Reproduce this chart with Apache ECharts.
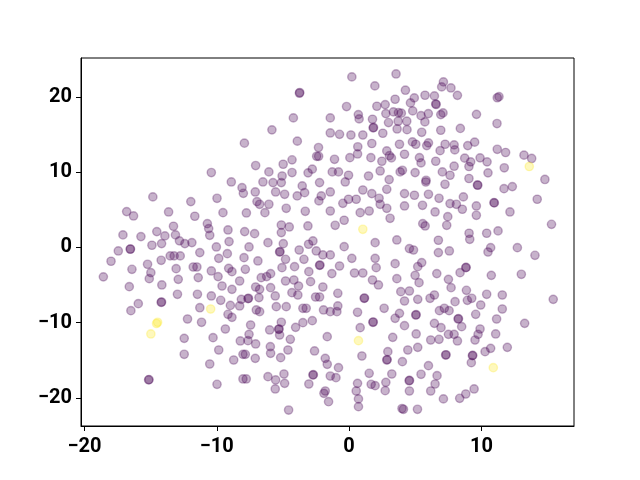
<!DOCTYPE html>
<html>
<head>
<meta charset="utf-8">
<script src="https://cdn.jsdelivr.net/npm/echarts@6/dist/echarts.min.js"></script>
<style>
  html, body { margin: 0; padding: 0; background: #fff; }
  #main { width: 640px; height: 480px; }
</style>
</head>
<body>
<div id="main"></div>
<script>
// class 0 (purple) points
var class0Points = [
    [-3.73,20.59],[-3.75,20.5],[-4.21,17.22],[-5.83,15.63],[-3.91,14.13],[-7.91,13.86],[-2.31,13.28],
    [-2.45,12.12],[-2.3,12.12],[-4.31,11.65],[-7.06,10.89],[-4.98,11.06],[-6.06,10.04],[-4.31,9.96],
    [-2.78,10.41],[-3.1,9.92],[-5.06,9.5],[-10.41,9.96],
    [0.21,22.67],[3.55,23.06],[1.95,21.47],[7.13,22.0],[7.0,21.34],[4.26,20.9],[5.74,20.23],[6.45,20.14],
    [4.93,19.88],[3.48,19.7],[4.64,19.21],[6.55,19.08],[6.58,19.0],[-0.19,18.73],[2.1,18.77],[2.73,18.99],
    [0.7,17.66],[0.76,17.09],[-1.42,17.22],[1.77,17.04],[2.78,17.79],[3.35,18.02],[3.73,17.93],[3.95,17.85],
    [4.81,18.15],[5.44,17.52],[5.99,17.79],[6.93,17.66],[7.1,17.88],[2.98,16.6],[3.71,16.78],[4.36,16.78],
    [5.73,16.69],[1.82,15.89],[1.85,15.95],[3.63,15.75],[4.38,15.66],[-1.42,15.22],[-0.72,15.04],[0.14,14.95],
    [1.04,14.95],[2.55,15.18],[5.49,15.31],[6.93,15.58],[1.72,13.82],[0.66,13.38],[3.81,13.72],[4.79,14.03],
    [5.04,13.72],[5.87,13.54],[6.0,13.9],[7.26,13.72],[6.88,12.87],[0.64,12.43],[2.85,12.83],[3.05,12.2],
    [3.2,11.9],[4.19,12.39],[1.65,11.94],[0.06,11.94],[-1.1,11.72],[5.32,11.94],[5.44,11.24],
    [6.55,11.46],[2.48,11.46],[-1.27,10.04],[-0.8,10.04],[-0.04,9.6],[1.47,9.5],
    [2.35,10.17],[3.03,9.02],[3.86,10.04],[4.03,10.26],[4.99,9.95],[5.82,8.93],[7.05,10.04],[7.63,9.6],
    [7.7,21.2],[8.19,20.22],[11.2,19.9],[11.33,20.04],[9.63,17.69],[8.41,15.82],[11.18,16.47],[7.94,13.63],
    [8.97,13.54],[9.49,14.0],[7.99,12.97],[11.2,13.05],[11.83,12.62],[13.22,12.27],[13.8,11.83],[8.74,11.87],
    [9.19,11.38],[9.06,10.76],[9.9,11.91],[10.43,11.38],[11.73,10.59],[10.5,9.92],[7.94,10.8],
    [9.06,9.17],[14.8,9.04],
    [-14.83,6.72],[-11.96,6.1],[-16.81,4.77],[-16.29,4.19],[-13.64,4.72],[-11.66,4.15],[-13.27,2.82],
    [-17.09,1.67],[-15.73,1.45],[-14.53,2.11],[-13.92,1.54],[-13.12,1.67],[-12.82,0.88],
    [-12.41,0.52],[-11.88,0.65],[-14.9,0.3],[-14.17,0.52],[-16.54,-0.23],[-16.52,-0.2],
    [-17.44,-0.46],[-17.99,-1.83],[-13.52,-1.12],[-13.22,-1.12],[-12.76,-1.12],[-11.28,-0.68],
    [-14.2,-1.7],[-15.23,-2.23],[-16.41,-2.9],[-14.98,-3.34],[-15.1,-4.14],[-13.07,-2.81],[-11.78,-2.59],
    [-11.5,-2.59],[-11.4,-4.0],[-12.91,-4.23],[-18.57,-3.9],[-16.61,-5.2],[-14.15,-4.98],
    [-12.97,-6.22],[-11.46,-6.22],[-15.93,-7.46],[-14.17,-7.24],[-14.2,-7.3],
    [-8.9,8.71],[-8.09,7.95],[-7.99,7.2],[-6.51,8.71],[-5.75,8.62],[-5.12,8.62],[-5.55,7.38],
    [-4.87,7.07],[-3.92,6.85],[-3.54,8.18],[-3.36,7.29],[-2.23,8.62],[-2.1,6.85],
    [-2.28,6.19],[-9.98,6.54],[-7.09,7.38],[-6.96,6.1],[-6.76,5.74],[-6.06,5.74],[-9.53,4.63],
    [-7.76,4.59],[-6.36,4.63],[-4.75,5.21],[-3.31,4.81],[-10.71,3.17],[-10.61,2.51],[-10.53,1.62],
    [-9.15,2.33],[-7.89,2.11],[-7.14,1.84],[-5.12,2.99],[-4.52,2.73],[-5.12,1.98],[-3.11,2.86],[-9.07,0.78],
    [-10.03,0.07],[-7.56,0.07],[-6.13,0.64],[-4.97,0.51],[-2.73,0.87],[-3.06,0.43],[-2.48,-0.46],
    [-3.77,-0.33],[-5.25,-0.6],[-5.22,-0.55],[-9.2,-0.82],[-9.85,-1.44],[-7.94,-1.35],[-6.89,-1.79],
    [-4.8,-1.57],[-3.41,-1.57],[-1.98,-0.99],[-2.23,-2.37],[-2.2,-2.33],[-10.41,-3.12],[-9.1,-2.77],
    [-8.85,-3.21],[-7.84,-2.9],[-5.07,-2.68],[-4.12,-2.55],[-3.04,-3.21],[-9.9,-3.87],[-6.64,-4.01],
    [-6.23,-3.87],[-5.93,-3.48],[-8.27,-4.45],[-4.8,-4.45],[-4.17,-4.32],[-2.91,-4.54],
    [-3.82,-5.12],[-9.6,-5.12],[-8.85,-5.56],[-7.06,-5.25],[-6.76,-5.56],[-5.93,-5.34],[-1.98,-5.25],
    [-10.41,-6.44],[-9.7,-7.02],[-7.64,-6.8],[-7.6,-6.75],[-8.14,-6.89],[-6.81,-6.66],[-5.58,-6.44],[-4.32,-6.0],
    [-3.87,-6.31],[-2.53,-6.58],[-2.23,-6.58],
    [-0.29,8.71],[7.25,8.4],[5.8,8.7],[-1.42,7.38],[-0.47,5.87],[-0.04,6.41],[0.54,6.41],[1.04,7.64],
    [1.72,7.16],[2.27,6.54],[2.35,5.74],[2.85,7.73],[2.85,5.21],[4.19,7.16],[4.94,6.94],[6.0,7.07],[6.8,6.54],
    [7.63,5.83],[4.19,5.52],[5.55,5.61],[-1.42,4.85],[0.84,4.63],[1.52,4.85],[3.1,3.88],[-1.05,2.95],
    [-0.37,3.62],[5.57,3.17],[5.75,2.86],[6.5,4.72],[7.46,4.1],[7.38,2.95],[3.61,1.0],[1.97,0.64],
    [-0.37,0.11],[4.56,-0.15],[4.87,-0.33],[6.75,0.96],[6.75,-0.68],[7.58,-0.46],[-1.42,-0.99],
    [0.21,-1.44],[1.97,-1.44],[-0.72,-2.46],[2.05,-2.68],[3.48,-2.15],[5.19,-2.55],[5.49,-2.01],
    [-1.3,-3.47],[0.41,-3.39],[1.04,-3.39],[4.99,-3.7],[6.63,-3.47],[1.77,-4.32],[3.61,-4.14],[5.29,-4.67],
    [7.51,-4.23],[2.22,-4.98],[7.71,-5.34],[-0.85,-6.09],[1.14,-6.75],[1.17,-6.72],[3.91,-5.87],[4.56,-5.78],
    [6.45,-6.31],[6.12,-6.75],[5.19,-6.89],[4.19,-7.11],
    [9.7,8.31],[9.73,8.27],[11.71,7.82],[12.34,8.09],[8.64,6.72],[8.11,5.74],[8.56,5.08],[9.62,5.52],[9.62,4.28],
    [10.95,5.96],[10.98,5.92],[12.16,4.72],[14.22,6.41],[15.3,3.08],[9.07,1.89],[9.12,1.09],[10.4,1.89],
    [11.26,2.2],[10.7,-0.02],[10.5,-0.6],[12.72,-0.02],[14.05,-1.04],[8.82,-2.68],[8.85,-2.64],
    [8.39,-3.34],[10.75,-3.7],[13.02,-3.56],[8.87,-5.69],[10.4,-6.22],[11.58,-6.31],[15.43,-6.89],[8.01,-7.2],
    [8.94,-7.02],[9.27,-6.75],
    [-16.49,-8.39],[-11.28,-8.0],[-12.21,-9.5],[-11.15,-9.94],[-12.46,-12.07],[-12.46,-14.19],[-15.15,-17.6],
    [-15.12,-17.55],
    [-8.97,-7.7],[-8.27,-7.77],[-7.01,-8.3],[-6.76,-8.53],[-5.5,-7.86],[-4.75,-7.86],[-3.49,-8.08],
    [-3.24,-8.08],[-1.93,-8.3],[-9.15,-8.88],[-8.85,-9.28],[-7.44,-10.3],[-9.35,-10.83],
    [-10.28,-11.98],[-8.22,-12.42],[-7.64,-12.38],[-7.56,-11.54],[-7.06,-12.82],[-6.0,-10.96],
    [-5.32,-10.87],[-5.29,-10.83],[-5.25,-11.63],[-5.12,-9.94],[-4.04,-10.61],[-3.49,-9.99],[-2.78,-9.72],
    [-4.44,-12.2],[-5.95,-13.18],[-5.93,-14.06],[-4.62,-13.62],[-5.17,-14.64],[-9.85,-13.62],[-8.02,-14.2],
    [-7.84,-14.2],[-7.09,-14.73],[-8.72,-14.95],[-10.53,-15.48],[-1.65,-11.85],
    [-2.61,-13.75],[-1.8,-14.73],[-1.65,-15.52],[-8.02,-17.47],[-7.77,-17.47],[-6.13,-17.16],[-5.55,-17.6],
    [-4.92,-16.81],[-4.87,-18.05],[-5.58,-18.8],[-2.73,-16.94],[-2.7,-16.9],[-3.04,-18.14],[-9.98,-18.18],
    [-1.9,-19.38],[-1.8,-19.07],[-1.55,-20.49],[-4.57,-21.6],
    [-1.42,-8.53],[-0.92,-8.53],[-0.85,-7.77],[0.64,-8.61],[2.65,-8.08],[3.81,-8.75],[5.04,-8.97],[5.07,-8.93],
    [6.83,-8.39],[7.2,-8.08],[7.56,-8.39],[1.8,-9.94],[1.83,-9.9],[0.84,-10.65],[3.48,-9.41],
    [4.19,-10.39],[5.07,-11.49],[6.45,-10.08],[6.95,-10.65],[6.17,-12.29],[6.8,-12.2],[7.51,-11.54],[3.3,-11.94],
    [0.97,-14.42],[2.93,-13.84],[2.85,-14.95],[2.88,-14.9],[4.44,-13.62],[5.19,-13.27],[4.03,-15.17],[7.3,-14.29],
    [7.33,-14.25],[6.0,-15.7],[-0.8,-15.97],[-1.42,-17.08],[-0.99,-17.3],[1.52,-16.72],[3.23,-16.81],[5.44,-16.85],
    [6.65,-17.03],[0.64,-18.05],[1.67,-18.18],[1.97,-18.36],[2.78,-17.92],[2.73,-19.02],[4.54,-17.7],[4.57,-17.66],
    [4.56,-19.07],[6.5,-18.14],[6.17,-19.07],[0.54,-19.07],[0.71,-20.12],[0.71,-21.15],[4.11,-21.5],[4.0,-21.4],
    [5.17,-21.5],[7.13,-20.12],
    [9.95,-7.64],[11.58,-8.17],[9.57,-8.88],[8.24,-9.5],[8.27,-9.46],[8.51,-10.52],[7.94,-11.54],
    [8.19,-12.42],[9.9,-10.83],[9.75,-11.54],[9.52,-12.29],[11.15,-9.5],[11.08,-11.49],[13.27,-10.08],[10.7,-13.4],
    [10.28,-13.84],[11.96,-13.27],[9.32,-14.37],[9.35,-14.33],[9.24,-15.3],[9.45,-18.8],[8.82,-19.47],[8.36,-20.04]
];
// class 1 (yellow) points
var class1Points = [
    [13.62,10.76],[1.04,2.42],[-14.47,-9.94],[-14.55,-10.1],[-14.98,-11.49],[-10.46,-8.17],[0.71,-12.38],[10.9,-15.97]
];
var xTicks = [-20, -10, 0, 10];
var yTicks = [-20, -10, 0, 10, 20];

var chart = echarts.init(document.getElementById('main'));

function tickText(v) {
    return String(v).replace('-', '\u2212');
}

var labelStyle = {
    color: '#000',
    fontFamily: 'Roboto',
    fontWeight: 'bold',
    fontSize: 20,
    margin: 9,
    formatter: tickText
};

var option = {
    animation: false,
    backgroundColor: '#fff',
    grid: {
        left: 81, right: 66, top: 58, bottom: 54,
        show: true, borderColor: '#000', borderWidth: 1
    },
    xAxis: {
        type: 'value',
        min: -20.26,
        max: 17.0,
        splitLine: { show: false },
        axisLine: { onZero: false, lineStyle: { color: '#000', width: 1 } },
        axisTick: { customValues: xTicks, length: 5, lineStyle: { color: '#000' } },
        axisLabel: Object.assign({}, labelStyle, { customValues: xTicks, margin: 11 })
    },
    yAxis: {
        type: 'value',
        min: -23.72,
        max: 25.18,
        splitLine: { show: false },
        axisLine: { onZero: false, lineStyle: { color: '#000', width: 1 } },
        axisTick: { customValues: yTicks, length: 5, lineStyle: { color: '#000' } },
        axisLabel: Object.assign({}, labelStyle, { customValues: yTicks })
    },
    series: [
        {
            type: 'scatter',
            data: class0Points,
            symbolSize: 8.3,
            itemStyle: {
                color: 'rgba(68,1,84,0.3)',
                borderColor: 'rgba(68,1,84,0.3)',
                borderWidth: 1.4,
                opacity: 1
            }
        },
        {
            type: 'scatter',
            data: class1Points,
            symbolSize: 8.3,
            itemStyle: {
                color: 'rgba(253,231,37,0.3)',
                borderColor: 'rgba(253,231,37,0.3)',
                borderWidth: 1.4,
                opacity: 1
            }
        }
    ]
};

chart.setOption(option);
</script>
</body>
</html>
